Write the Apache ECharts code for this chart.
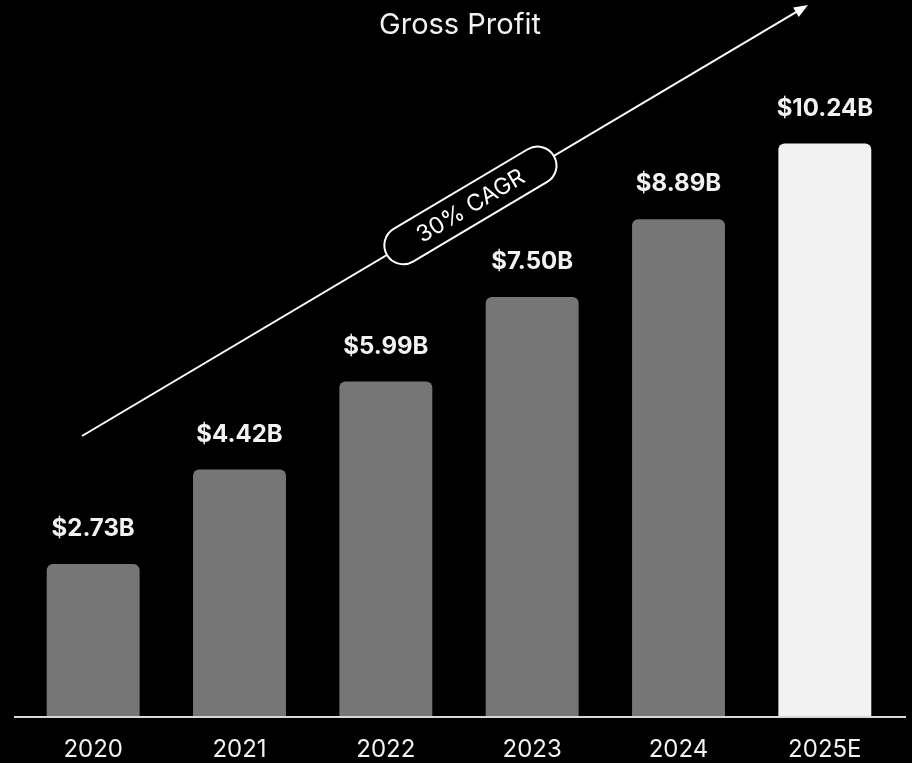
<!DOCTYPE html>
<html>
<head>
<meta charset="utf-8">
<title>Gross Profit</title>
<script src="https://cdn.jsdelivr.net/npm/echarts@6/dist/echarts.min.js"></script>
<style>
  html, body { margin: 0; padding: 0; background: #000; }
  #chart { width: 912px; height: 763px; }
</style>
</head>
<body>
<div id="chart"></div>
<script>
// Gross profit by year, in billions of dollars
const years = ['2020', '2021', '2022', '2023', '2024', '2025E'];
const grossProfit = [2.73, 4.42, 5.99, 7.50, 8.89, 10.24];
const cagrText = '30% CAGR';

const FONT = 'Inter, "Noto Sans", sans-serif';
const chart = echarts.init(document.getElementById('chart'));

const barData = grossProfit.map((v, i) => ({
  value: v,
  itemStyle: { color: years[i].endsWith('E') ? '#f2f2f2' : '#767676' }
}));

// Growth arrow geometry (screen pixels)
const arrowStart = [82, 436];
const arrowEnd = [808, 5];
const dx = arrowEnd[0] - arrowStart[0];
const dy = arrowEnd[1] - arrowStart[1];
const arrowLen = Math.sqrt(dx * dx + dy * dy);
const arrowRot = -Math.atan2(dy, dx);
const pillPos = 0.535; // fraction along the arrow where the CAGR badge sits
const pillW = 194, pillH = 38;

chart.setOption({
  backgroundColor: '#000',
  animation: false,
  title: {
    text: 'Gross Profit',
    left: 455,
    textAlign: 'center',
    top: 6,
    textStyle: { color: '#f2f2f2', fontFamily: FONT, fontSize: 29, fontWeight: 'normal' }
  },
  grid: { left: 20, right: 14, top: 45, bottom: 46 },
  xAxis: {
    type: 'category',
    data: years,
    axisLine: { show: false },
    axisTick: { show: false },
    axisLabel: { color: '#f2f2f2', fontFamily: FONT, fontSize: 24, margin: 21 }
  },
  yAxis: {
    type: 'value',
    min: 0,
    max: 12,
    show: false,
    splitLine: { show: false }
  },
  series: [{
    type: 'bar',
    data: barData,
    barCategoryGap: '36.5%',
    itemStyle: { borderRadius: [6, 6, 0, 0] },
    label: {
      show: true,
      position: 'top',
      distance: 23,
      color: '#f2f2f2',
      fontFamily: FONT,
      fontSize: 24,
      fontWeight: 'bold',
      formatter: p => '$' + p.value.toFixed(2) + 'B'
    }
  }]
});

// Baseline and growth arrow with badge
const baseY = chart.convertToPixel({ yAxisIndex: 0 }, 0);
chart.setOption({
  graphic: [
    {
      type: 'line',
      shape: { x1: 14, y1: baseY, x2: 906, y2: baseY },
      style: { stroke: '#d9d9d9', lineWidth: 2 },
      z: 10
    },
    {
      type: 'group',
      x: arrowStart[0],
      y: arrowStart[1],
      rotation: arrowRot,
      z: 10,
      children: [
        {
          type: 'line',
          shape: { x1: 0, y1: 0, x2: arrowLen - 10, y2: 0 },
          style: { stroke: '#ffffff', lineWidth: 2 }
        },
        {
          type: 'polygon',
          shape: { points: [[arrowLen, 0], [arrowLen - 14, -5.5], [arrowLen - 14, 5.5]] },
          style: { fill: '#ffffff' }
        },
        {
          type: 'rect',
          shape: { x: arrowLen * pillPos - pillW / 2, y: -pillH / 2, width: pillW, height: pillH, r: pillH / 2 },
          style: { fill: '#000', stroke: '#ffffff', lineWidth: 2 }
        },
        {
          type: 'text',
          x: arrowLen * pillPos,
          y: 1,
          style: {
            text: cagrText,
            fill: '#ffffff',
            font: '23px ' + FONT,
            align: 'center',
            verticalAlign: 'middle'
          }
        }
      ]
    }
  ]
});
</script>
</body>
</html>
